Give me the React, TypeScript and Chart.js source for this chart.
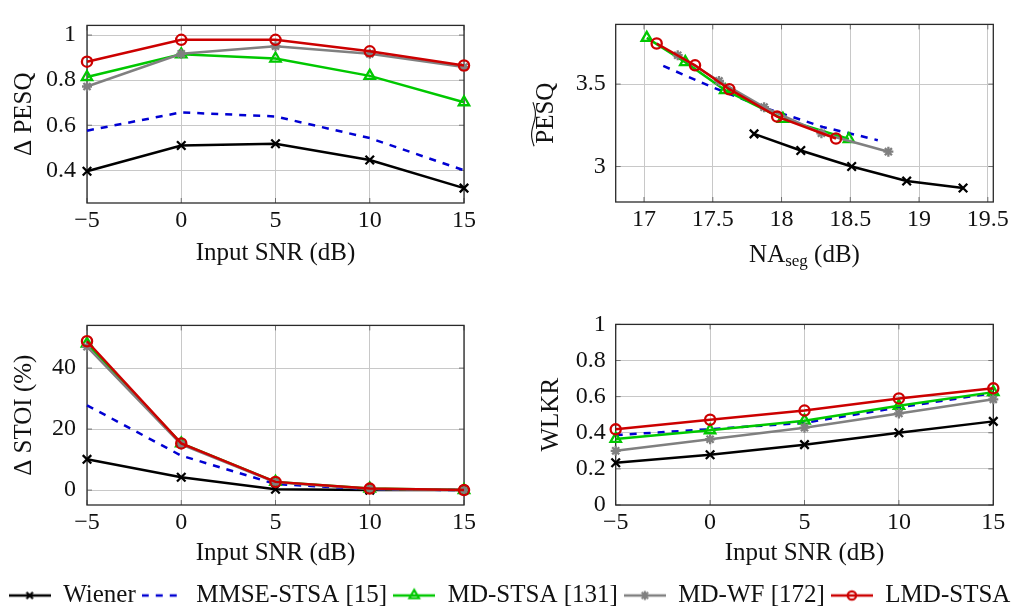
import React, { useEffect, useRef } from "react";
import { Chart, registerables } from "chart.js";

Chart.register(...registerables);

// ---------------- DATA ----------------
const SERIES_NAMES = ["Wiener", "MMSE-STSA [15]", "MD-STSA [131]", "MD-WF [172]", "LMD-STSA"];

const SNR = [-5, 0, 5, 10, 15];
const SNR_TICKS = [-5, 0, 5, 10, 15];
const SNR_TICK_LABELS = ["\u22125", "0", "5", "10", "15"];

// Δ PESQ vs input SNR
const DPESQ_WIENER = [0.396, 0.51, 0.518, 0.446, 0.321];
const DPESQ_MMSE = [0.576, 0.657, 0.639, 0.543, 0.4];
const DPESQ_MDSTSA = [0.814, 0.915, 0.896, 0.819, 0.702];
const DPESQ_MDWF = [0.772, 0.917, 0.951, 0.917, 0.858];
const DPESQ_LMD = [0.882, 0.979, 0.979, 0.928, 0.865];
const DPESQ_TICKS = [0.4, 0.6, 0.8, 1];
const DPESQ_TICK_LABELS = ["0.4", "0.6", "0.8", "1"];

// PESQ vs NA_seg
const NA_WIENER = [17.8, 18.14, 18.51, 18.91, 19.32];
const PESQ_WIENER = [3.198, 3.097, 3.0, 2.912, 2.87];
const NA_MMSE = [17.14, 17.5, 17.9, 18.3, 18.7];
const PESQ_MMSE = [3.61, 3.48, 3.35, 3.24, 3.16];
const NA_MDSTSA = [17.02, 17.3, 17.59, 18.01, 18.49];
const PESQ_MDSTSA = [3.78, 3.633, 3.463, 3.289, 3.167];
const NA_MDWF = [17.245, 17.545, 17.873, 18.29, 18.777];
const PESQ_MDWF = [3.675, 3.519, 3.36, 3.202, 3.09];
const NA_LMD = [17.092, 17.371, 17.62, 17.968, 18.396];
const PESQ_LMD = [3.746, 3.614, 3.469, 3.303, 3.17];
const NA_TICKS = [17, 17.5, 18, 18.5, 19, 19.5];
const NA_TICK_LABELS = ["17", "17.5", "18", "18.5", "19", "19.5"];
const PESQ_TICKS = [3, 3.5];
const PESQ_TICK_LABELS = ["3", "3.5"];

// Δ STOI (%) vs input SNR
const DSTOI_WIENER = [10.1, 4.2, 0.3, 0.0, 0.0];
const DSTOI_MMSE = [27.8, 11.3, 2.0, 0.3, 0.0];
const DSTOI_MDSTSA = [48.0, 15.3, 2.7, 0.5, 0.0];
const DSTOI_MDWF = [47.0, 15.0, 2.6, 0.4, 0.0];
const DSTOI_LMD = [48.8, 15.3, 2.7, 0.5, 0.0];
const DSTOI_TICKS = [0, 20, 40];
const DSTOI_TICK_LABELS = ["0", "20", "40"];

// WLKR vs input SNR
const WLKR_WIENER = [0.234, 0.278, 0.334, 0.4, 0.463];
const WLKR_MMSE = [0.387, 0.42, 0.455, 0.54, 0.62];
const WLKR_MDSTSA = [0.366, 0.414, 0.467, 0.549, 0.625];
const WLKR_MDWF = [0.3, 0.364, 0.428, 0.507, 0.585];
const WLKR_LMD = [0.419, 0.472, 0.523, 0.59, 0.646];
const WLKR_TICKS = [0, 0.2, 0.4, 0.6, 0.8, 1];
const WLKR_TICK_LABELS = ["0", "0.2", "0.4", "0.6", "0.8", "1"];

// ---------------- STYLE ----------------
const FONT = "'Liberation Serif', 'Times New Roman', Times, serif";
const TEXT = "#111111";
const GRID = "rgb(200,200,200)";

type SeriesStyle = { color: string; marker: string | null; radius: number; dash: number[] };
const STYLES: SeriesStyle[] = [
  { color: "#000000", marker: "crossRot", radius: 6, dash: [] },
  { color: "rgb(0,0,210)", marker: null, radius: 0, dash: [7, 7] },
  { color: "rgb(0,200,0)", marker: "triangle", radius: 6, dash: [] },
  { color: "rgb(128,128,128)", marker: "star", radius: 5, dash: [] },
  { color: "rgb(204,0,0)", marker: "circle", radius: 5.1, dash: [] },
];

function xy(xs: number[], ys: number[]) {
  return xs.map((x, k) => ({ x, y: ys[k] }));
}

function dataset(i: number, data: { x: number; y: number }[]) {
  const s = STYLES[i];
  return {
    label: SERIES_NAMES[i],
    data,
    borderColor: s.color,
    backgroundColor: s.color,
    borderWidth: 2.5,
    borderDash: s.dash,
    pointStyle: s.marker || "circle",
    pointRadius: s.marker ? s.radius : 0,
    pointHoverRadius: s.marker ? s.radius : 0,
    pointBorderWidth: 2.3,
    pointBorderColor: s.color,
    pointBackgroundColor: "rgba(0,0,0,0)",
    tension: 0,
    fill: false,
    order: SERIES_NAMES.length - i,
    clip: false,
  };
}

const framePlugin = {
  id: "frame",
  beforeDatasetsDraw(chart: any) {
    const { ctx, chartArea: a, scales } = chart;
    ctx.save();
    ctx.strokeStyle = "#707070";
    ctx.lineWidth = 1;
    const L = 5;
    ctx.beginPath();
    scales.x.ticks.forEach((t: any) => {
      const p = scales.x.getPixelForValue(t.value);
      ctx.moveTo(p, a.bottom);
      ctx.lineTo(p, a.bottom - L);
      ctx.moveTo(p, a.top);
      ctx.lineTo(p, a.top + L);
    });
    scales.y.ticks.forEach((t: any) => {
      const p = scales.y.getPixelForValue(t.value);
      ctx.moveTo(a.left, p);
      ctx.lineTo(a.left + L, p);
      ctx.moveTo(a.right, p);
      ctx.lineTo(a.right - L, p);
    });
    ctx.stroke();
    ctx.strokeStyle = "#2a2a2a";
    ctx.lineWidth = 1.3;
    ctx.strokeRect(a.left, a.top, a.right - a.left, a.bottom - a.top);
    ctx.restore();
  },
};

type AxisSpec = {
  min: number;
  max: number;
  ticks: number[];
  labels: string[];
  title: string | null;
  titlePad: number;
  size: number;
  tickPad: number;
};

function buildConfig(datasets: any[], x: AxisSpec, y: AxisSpec, pad: any, extra: any[] = []) {
  return {
    type: "line",
    data: { datasets },
    options: {
      animation: false,
      responsive: false,
      maintainAspectRatio: false,
      events: [],
      layout: { padding: pad },
      plugins: { legend: { display: false }, tooltip: { enabled: false } },
      scales: {
        x: {
          type: "linear",
          position: "bottom",
          min: x.min,
          max: x.max,
          afterBuildTicks: (s: any) => {
            s.ticks = x.ticks.map((v) => ({ value: v }));
          },
          afterFit: (s: any) => {
            s.height = x.size;
          },
          ticks: {
            callback: (_v: any, i: number) => x.labels[i],
            font: { family: FONT, size: 24 },
            color: TEXT,
            padding: x.tickPad,
            autoSkip: false,
            maxRotation: 0,
            minRotation: 0,
          },
          grid: { color: GRID, lineWidth: 1, drawTicks: false },
          border: { display: false },
          title: {
            display: !!x.title,
            text: x.title || "",
            font: { family: FONT, size: 25 },
            color: TEXT,
            padding: { top: 0, bottom: x.titlePad },
          },
        },
        y: {
          type: "linear",
          position: "left",
          min: y.min,
          max: y.max,
          afterBuildTicks: (s: any) => {
            s.ticks = y.ticks.map((v) => ({ value: v }));
          },
          afterFit: (s: any) => {
            s.width = y.size;
          },
          ticks: {
            callback: (_v: any, i: number) => y.labels[i],
            font: { family: FONT, size: 24 },
            color: TEXT,
            padding: y.tickPad,
            autoSkip: false,
          },
          grid: { color: GRID, lineWidth: 1, drawTicks: false },
          border: { display: false },
          title: {
            display: !!y.title,
            text: y.title || "",
            font: { family: FONT, size: 25 },
            color: TEXT,
            padding: { top: y.titlePad, bottom: 0 },
          },
        },
      },
    },
    plugins: [framePlugin, ...extra],
  };
}

// titles with sub-script / tilde for the PESQ–NA panel
const pesqTitlePlugin = {
  id: "pesqTitles",
  afterDraw(chart: any) {
    const { ctx, chartArea: a } = chart;
    ctx.save();
    ctx.fillStyle = TEXT;
    ctx.textAlign = "left";
    ctx.textBaseline = "alphabetic";
    const big = `25px ${FONT}`;
    const small = `17px ${FONT}`;
    ctx.font = big;
    const w1 = ctx.measureText("NA").width;
    const w3 = ctx.measureText(" (dB)").width;
    ctx.font = small;
    const w2 = ctx.measureText("seg").width;
    let x = (a.left + a.right) / 2 - (w1 + w2 + w3) / 2;
    const base = a.bottom + 60;
    ctx.font = big;
    ctx.fillText("NA", x, base);
    x += w1;
    ctx.font = small;
    ctx.fillText("seg", x, base + 4);
    x += w2;
    ctx.font = big;
    ctx.fillText(" (dB)", x, base);
    // wide tilde over the rotated "PESQ"
    const cy = (a.top + a.bottom) / 2;
    const yB = cy + 33;
    const yT = cy - 11;
    const cx = 33.5;
    ctx.strokeStyle = TEXT;
    ctx.lineWidth = 1.1;
    ctx.beginPath();
    for (let k = 0; k <= 30; k++) {
      const t = k / 30;
      const yy = yB - t * (yB - yT);
      const xx = cx - 2.2 * Math.sin(2 * Math.PI * t) - 1.2 * (t - 0.5);
      if (k === 0) ctx.moveTo(xx, yy);
      else ctx.lineTo(xx, yy);
    }
    ctx.stroke();
    ctx.restore();
  },
};

// ---------------- LEGEND ----------------
function drawMark(ctx: CanvasRenderingContext2D, kind: string, x: number, y: number, r: number) {
  ctx.beginPath();
  if (kind === "crossRot" || kind === "star") {
    const d = r * 0.7071;
    ctx.moveTo(x - d, y - d);
    ctx.lineTo(x + d, y + d);
    ctx.moveTo(x + d, y - d);
    ctx.lineTo(x - d, y + d);
    if (kind === "star") {
      ctx.moveTo(x, y - r);
      ctx.lineTo(x, y + r);
      ctx.moveTo(x - r, y);
      ctx.lineTo(x + r, y);
    }
    ctx.stroke();
  } else if (kind === "triangle") {
    ctx.moveTo(x, y - r);
    ctx.lineTo(x + r * 0.866, y + r * 0.5);
    ctx.lineTo(x - r * 0.866, y + r * 0.5);
    ctx.closePath();
    ctx.stroke();
  } else if (kind === "circle") {
    ctx.arc(x, y, r, 0, Math.PI * 2);
    ctx.stroke();
  }
}

const LEGEND_SAMPLE_W = 42;

function legendImage(s: SeriesStyle) {
  const c = document.createElement("canvas");
  c.width = LEGEND_SAMPLE_W;
  c.height = 18;
  const ctx = c.getContext("2d")!;
  ctx.strokeStyle = s.color;
  ctx.lineWidth = 2.5;
  ctx.setLineDash(s.dash);
  ctx.beginPath();
  ctx.moveTo(0, 9);
  ctx.lineTo(LEGEND_SAMPLE_W, 9);
  ctx.stroke();
  ctx.setLineDash([]);
  ctx.lineWidth = 2.2;
  if (s.marker) {
    const r = s.marker === "triangle" ? 5.5 : s.marker === "circle" ? 4.2 : 4.5;
    drawMark(ctx, s.marker, LEGEND_SAMPLE_W / 2, 9, r);
  }
  return c;
}

function legendConfig() {
  return {
    type: "line",
    data: { datasets: [] },
    options: {
      animation: false,
      responsive: false,
      maintainAspectRatio: false,
      events: [],
      layout: { padding: 0 },
      scales: { x: { display: false }, y: { display: false } },
      plugins: {
        tooltip: { enabled: false },
        legend: {
          display: true,
          position: "top",
          align: "center",
          labels: {
            usePointStyle: true,
            pointStyleWidth: LEGEND_SAMPLE_W,
            boxHeight: 25,
            padding: 6,
            font: { family: FONT, size: 25 },
            color: TEXT,
            generateLabels: () =>
              SERIES_NAMES.map((name, i) => ({
                text: name,
                pointStyle: legendImage(STYLES[i]),
                fillStyle: STYLES[i].color,
                strokeStyle: STYLES[i].color,
                lineWidth: 0,
                hidden: false,
                fontColor: TEXT,
                datasetIndex: i,
              })),
          },
        },
      },
    },
  };
}

// ---------------- CONFIGS ----------------
function configDPESQ() {
  const sets = [DPESQ_WIENER, DPESQ_MMSE, DPESQ_MDSTSA, DPESQ_MDWF, DPESQ_LMD];
  return buildConfig(
    sets.map((ys, i) => dataset(i, xy(SNR, ys))),
    { min: -5, max: 15, ticks: SNR_TICKS, labels: SNR_TICK_LABELS, title: "Input SNR (dB)", titlePad: 4.5, size: 70, tickPad: 3 },
    { min: 0.255, max: 1.043, ticks: DPESQ_TICKS, labels: DPESQ_TICK_LABELS, title: "\u0394 PESQ", titlePad: 9.2, size: 87, tickPad: 11 },
    { left: 0, top: 14, right: 36, bottom: 0 }
  );
}

function configPESQ() {
  const xs = [NA_WIENER, NA_MMSE, NA_MDSTSA, NA_MDWF, NA_LMD];
  const ys = [PESQ_WIENER, PESQ_MMSE, PESQ_MDSTSA, PESQ_MDWF, PESQ_LMD];
  return buildConfig(
    xs.map((x, i) => dataset(i, xy(x, ys[i]))),
    { min: 16.794, max: 19.54, ticks: NA_TICKS, labels: NA_TICK_LABELS, title: null, titlePad: 0, size: 70, tickPad: 3 },
    { min: 2.785, max: 3.862, ticks: PESQ_TICKS, labels: PESQ_TICK_LABELS, title: "PESQ", titlePad: 31.2, size: 115.7, tickPad: 10 },
    { left: 0, top: 14, right: 25.7, bottom: 0 },
    [pesqTitlePlugin]
  );
}

function configSTOI() {
  const sets = [DSTOI_WIENER, DSTOI_MMSE, DSTOI_MDSTSA, DSTOI_MDWF, DSTOI_LMD];
  return buildConfig(
    sets.map((ys, i) => dataset(i, xy(SNR, ys))),
    { min: -5, max: 15, ticks: SNR_TICKS, labels: SNR_TICK_LABELS, title: "Input SNR (dB)", titlePad: 6.7, size: 70, tickPad: 3 },
    { min: -4.88, max: 54.0, ticks: DSTOI_TICKS, labels: DSTOI_TICK_LABELS, title: "\u0394 STOI (%)", titlePad: 9.7, size: 87, tickPad: 11 },
    { left: 0, top: 15.7, right: 36, bottom: 0 }
  );
}

function configWLKR() {
  const sets = [WLKR_WIENER, WLKR_MMSE, WLKR_MDSTSA, WLKR_MDWF, WLKR_LMD];
  return buildConfig(
    sets.map((ys, i) => dataset(i, xy(SNR, ys))),
    { min: -5, max: 15, ticks: SNR_TICKS, labels: SNR_TICK_LABELS, title: "Input SNR (dB)", titlePad: 6.7, size: 70, tickPad: 3 },
    { min: 0, max: 1, ticks: WLKR_TICKS, labels: WLKR_TICK_LABELS, title: "WLKR", titlePad: 36.7, size: 115.7, tickPad: 10 },
    { left: 0, top: 15.7, right: 25.7, bottom: 0 }
  );
}

// ---------------- COMPONENTS ----------------
function ChartCanvas(props: { left: number; top: number; width: number; height: number; make: () => any }) {
  const ref = useRef<HTMLCanvasElement | null>(null);
  useEffect(() => {
    const chart = new Chart(ref.current as HTMLCanvasElement, props.make());
    return () => chart.destroy();
  }, []);
  return (
    <canvas
      ref={ref}
      width={props.width}
      height={props.height}
      style={{ position: "absolute", left: props.left, top: props.top, width: props.width, height: props.height, display: "block" }}
    />
  );
}

export default function App() {
  return (
    <div
      style={{
        position: "fixed",
        left: 0,
        top: 0,
        width: 1019,
        height: 607,
        overflow: "hidden",
        background: "#ffffff",
      }}
    >
      <ChartCanvas left={0} top={0} width={500} height={273} make={configDPESQ} />
      <ChartCanvas left={500} top={0} width={519} height={272} make={configPESQ} />
      <ChartCanvas left={0} top={300} width={500} height={275} make={configSTOI} />
      <ChartCanvas left={500} top={300} width={519} height={275} make={configWLKR} />
      <ChartCanvas left={-16} top={577} width={1051} height={120} make={legendConfig} />
    </div>
  );
}
